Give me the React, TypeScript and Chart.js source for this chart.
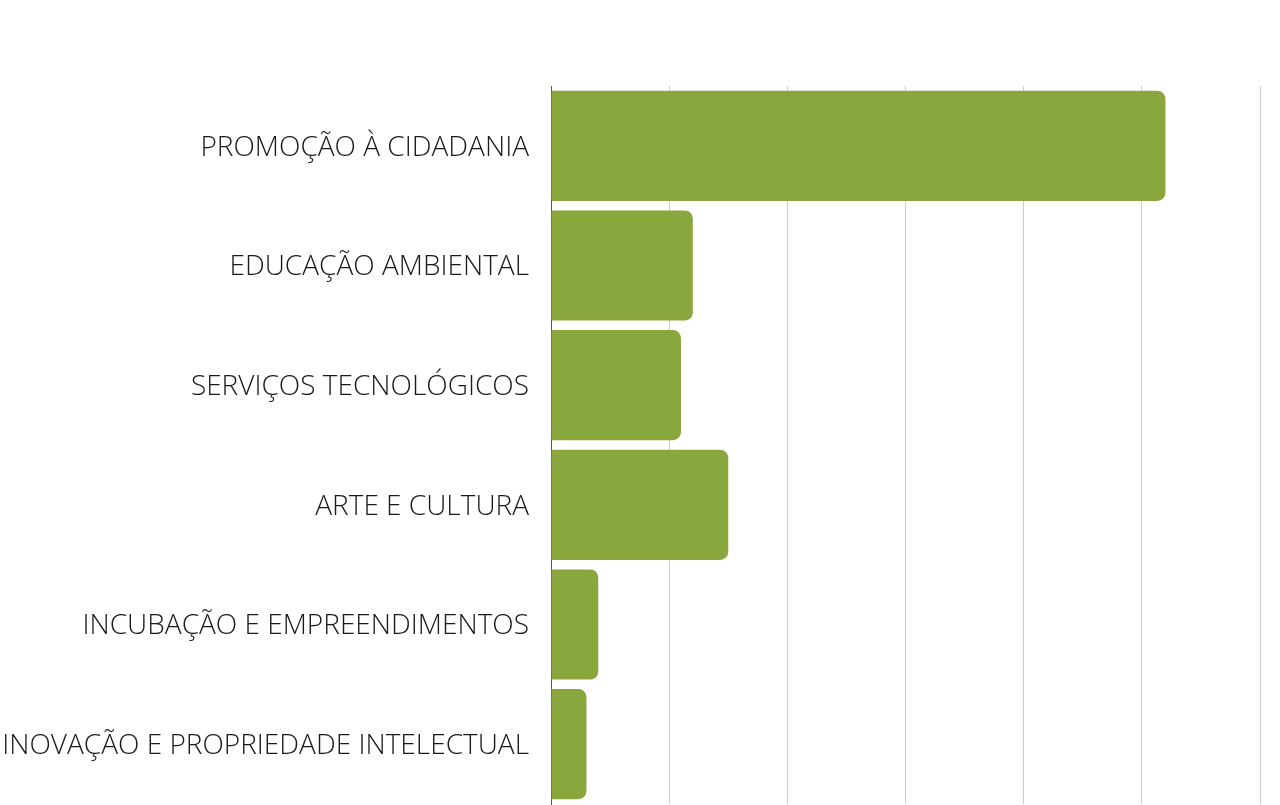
import React, { useEffect, useRef } from "react";
import { Chart, registerables } from "chart.js";

Chart.register(...registerables);

const categories = [
  "PROMOÇÃO À CIDADANIA",
  "EDUCAÇÃO AMBIENTAL",
  "SERVIÇOS TECNOLÓGICOS",
  "ARTE E CULTURA",
  "INCUBAÇÃO E EMPREENDIMENTOS",
  "INOVAÇÃO E PROPRIEDADE INTELECTUAL",
];
const values = [52, 12, 11, 15, 4, 3];
const xMax = 60;
const xStep = 10;

export default function App() {
  const ref = useRef<HTMLCanvasElement | null>(null);
  useEffect(() => {
    document.body.style.margin = "0";
    const chart = new Chart(ref.current!, {
      type: "bar",
      data: {
        labels: categories,
        datasets: [
          {
            data: values,
            backgroundColor: "#8aa73d",
            borderRadius: 8,
            borderSkipped: "start",
            barPercentage: 0.92,
            categoryPercentage: 1,
          },
        ],
      },
      options: {
        indexAxis: "y",
        animation: false,
        responsive: false,
        maintainAspectRatio: false,
        layout: { padding: { top: 86, right: 20, bottom: 1, left: 0 } },
        plugins: { legend: { display: false }, tooltip: { enabled: false } },
        scales: {
          x: {
            min: 0,
            max: xMax,
            ticks: { display: false, stepSize: xStep },
            grid: { color: "#cccccc", drawTicks: false, lineWidth: 1 },
            border: { display: false },
            afterFit: (s: any) => {
              s.height = 0;
            },
          },
          y: {
            grid: { display: false, drawTicks: false },
            border: { display: true, color: "#555555" },
            ticks: {
              color: "#1a1a1a",
              padding: 22,
              labelOffset: 2,
              font: { family: "'Open Sans'", size: 28, weight: 300 },
            },
            afterFit: (s: any) => {
              s.width = 551;
              s.paddingBottom = 0;
              s.paddingTop = 0;
            },
          },
        },
      },
    });
    return () => chart.destroy();
  }, []);
  return (
    <div style={{ position: "fixed", left: 0, top: 0, width: 1280, height: 805 }}>
      <canvas ref={ref} width={1280} height={805} />
    </div>
  );
}
